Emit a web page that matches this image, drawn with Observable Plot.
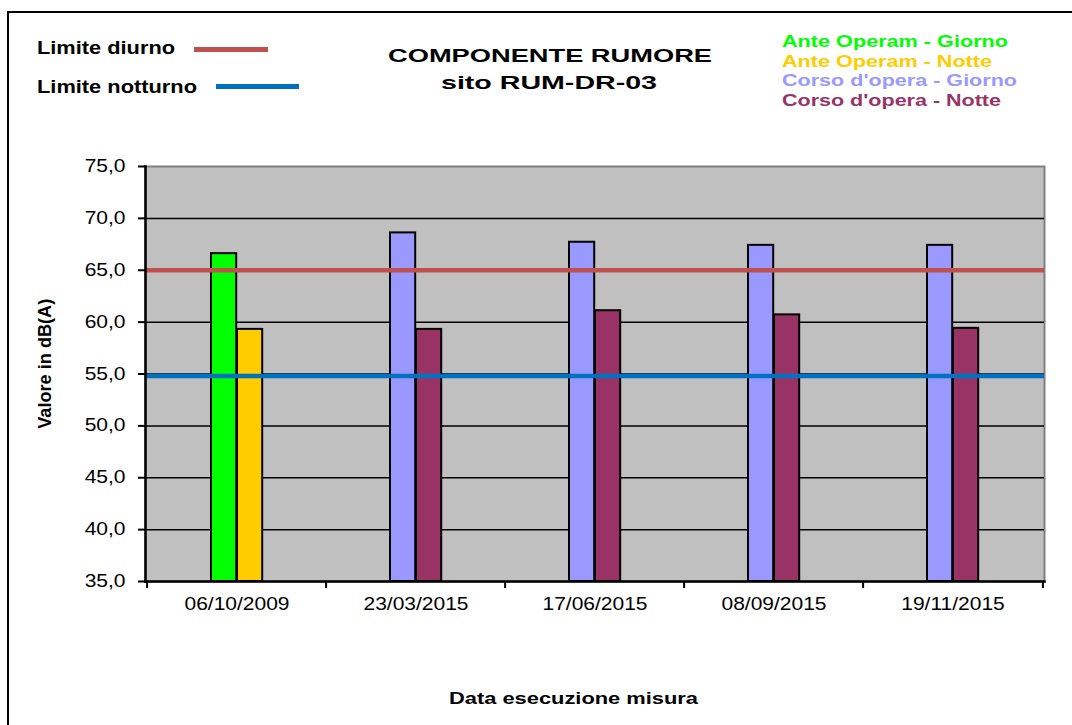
<!DOCTYPE html>
<html>
<head>
<meta charset="utf-8">
<script src="https://cdn.jsdelivr.net/npm/d3@7"></script>
<script src="https://cdn.jsdelivr.net/npm/@observablehq/plot@0.6"></script>
<style>
  html, body { margin: 0; padding: 0; background: #fff; }
  #wrap { position: relative; width: 1072px; height: 725px; overflow: hidden; font-family: "Liberation Sans", Arial, sans-serif; }
  #wrap svg { position: absolute; left: 0; top: 0; }
  .border { position: absolute; left: 7px; top: 11px; width: 1100px; height: 800px; border: 2px solid #000; box-sizing: border-box; pointer-events: none; }
  .t { position: absolute; font-weight: bold; white-space: nowrap; line-height: 1; display: inline-block; }
  .sw { position: absolute; }
</style>
</head>
<body>
<div id="wrap"></div>
<script>
// ---- data ----
const dates = ["06/10/2009", "23/03/2015", "17/06/2015", "08/09/2015", "19/11/2015"];
const phases = ["Ante Operam", "Corso d'opera", "Corso d'opera", "Corso d'opera", "Corso d'opera"];
const giorno = [66.6, 68.6, 67.7, 67.4, 67.4];
const notte = [59.3, 59.3, 61.1, 60.7, 59.4];
const limiteDiurno = 65.0;
const limiteNotturno = 54.8;
const yTicks = [35, 40, 45, 50, 55, 60, 65, 70, 75];
const legendSeries = ["Ante Operam - Giorno", "Ante Operam - Notte", "Corso d'opera - Giorno", "Corso d'opera - Notte"];
const legendColors = ["#00FF00", "#FFCC00", "#9999FF", "#993366"];
const limitNames = ["Limite diurno", "Limite notturno"];
const limitColors = ["#C0504D", "#0070C0"];
const title = ["COMPONENTE RUMORE", "sito RUM-DR-03"];
const yLabel = "Valore in dB(A)";
const xLabel = "Data esecuzione misura";

// ---- build ----
const colorOf = (phase, period) => legendColors[legendSeries.indexOf(phase + " - " + period)];
const dayData = dates.map((d, i) => ({date: d, value: giorno[i], fill: colorOf(phases[i], "Giorno")}));
const nightData = dates.map((d, i) => ({date: d, value: notte[i], fill: colorOf(phases[i], "Notte")}));
const fmt = v => v.toFixed(1).replace(".", ",");

const W = 1072, H = 725;
const mL = 145, mR = 28, mT = 166, mB = 144;
const bw = (W - mL - mR) / dates.length;
const STRETCH = 1.2;

const chart = Plot.plot({
  width: W, height: H,
  marginLeft: mL, marginRight: mR, marginTop: mT, marginBottom: mB,
  style: {fontFamily: "'Liberation Sans', Arial, sans-serif", fontSize: "17.5px", color: "#000", background: "transparent"},
  x: {type: "band", domain: dates, padding: 0},
  y: {domain: [35, 75]},
  marks: [
    Plot.frame({fill: "#C0C0C0", stroke: "#808080", strokeWidth: 2}),
    Plot.gridY(yTicks.filter(v => v > 35 && v < 75), {stroke: "#000", strokeOpacity: 1, strokeWidth: 1.5}),
    Plot.barY(dayData, {x: "date", y1: 35, y2: "value", fill: "fill", stroke: "#000", strokeWidth: 2,
      insetLeft: 64, insetRight: bw - 90}),
    Plot.barY(nightData, {x: "date", y1: 35, y2: "value", fill: "fill", stroke: "#000", strokeWidth: 2,
      insetLeft: 90, insetRight: bw - 116}),
    Plot.ruleY([limiteDiurno], {stroke: limitColors[0], strokeWidth: 4.5}),
    Plot.ruleY([limiteNotturno], {stroke: limitColors[1], strokeWidth: 4.5}),
    Plot.frame({anchor: "left", stroke: "#000", strokeWidth: 2.5}),
    Plot.frame({anchor: "bottom", stroke: "#000", strokeWidth: 2.5}),
    Plot.axisY({ticks: yTicks, tickFormat: fmt, tickSize: 7, tickPadding: 13, label: null, strokeWidth: 2, fontSize: 17.5}),
    Plot.axisX({tickSize: 0, tickPadding: 16, label: null, fontSize: 17.5}),
    Plot.axisX({tickSize: 7, dx: -bw / 2, text: null, label: null, strokeWidth: 2}),
    Plot.axisX({ticks: [dates[dates.length - 1]], tickSize: 7, dx: bw / 2, text: null, label: null, strokeWidth: 2})
  ]
});

// stretch tick labels horizontally like the reference
chart.querySelectorAll('g[aria-label$="tick label"] text').forEach(t => {
  const tr = t.getAttribute("transform") || "";
  t.setAttribute("transform", tr + ` scale(${STRETCH},1)`);
});

const wrap = document.getElementById("wrap");
wrap.appendChild(chart);

// text placed by left edge, baseline, and target width
function addText(txt, {left, baseline, size, width, color = "#000"}) {
  const el = document.createElement("div");
  el.className = "t";
  el.textContent = txt;
  el.style.fontSize = size + "px";
  el.style.color = color;
  el.style.left = left + "px";
  el.style.top = (baseline - 0.8465 * size) + "px";
  wrap.appendChild(el);
  const w = el.getBoundingClientRect().width;
  el.style.transformOrigin = "0 0";
  el.style.transform = `scaleX(${width / w})`;
  return el;
}
function addSwatch(color, x1, x2, y1, y2) {
  const el = document.createElement("div");
  el.className = "sw";
  el.style.background = color;
  Object.assign(el.style, {left: x1 + "px", top: y1 + "px", width: (x2 - x1) + "px", height: (y2 - y1) + "px"});
  wrap.appendChild(el);
}

const border = document.createElement("div");
border.className = "border";
wrap.appendChild(border);

// title
addText(title[0], {left: 388, baseline: 62.5, size: 19, width: 324});
addText(title[1], {left: 441, baseline: 89, size: 19, width: 216});

// limits legend
addText(limitNames[0], {left: 37, baseline: 54.5, size: 17.5, width: 138});
addSwatch(limitColors[0], 194, 268, 47, 51.8);
addText(limitNames[1], {left: 37, baseline: 93.5, size: 17.5, width: 160});
addSwatch(limitColors[1], 216, 299, 84.3, 89);

// series legend
const legendWidths = [226, 210, 235, 219];
legendSeries.forEach((s, i) => {
  addText(s, {left: 781.5, baseline: 46.7 + i * 19.7, size: 16.3, width: legendWidths[i], color: legendColors[i]});
});

// axis labels
addText(xLabel, {left: 449, baseline: 704, size: 17, width: 249});
const yl = document.createElement("div");
yl.className = "t";
yl.textContent = yLabel;
yl.style.fontSize = "17.5px";
wrap.appendChild(yl);
const ylw = yl.getBoundingClientRect().width;
const ylh = yl.getBoundingClientRect().height;
yl.style.left = (46 - ylw / 2) + "px";
yl.style.top = (364 - ylh / 2) + "px";
yl.style.transformOrigin = "50% 50%";
yl.style.transform = `rotate(-90deg) scaleX(${130 / ylw})`;
</script>
</body>
</html>
